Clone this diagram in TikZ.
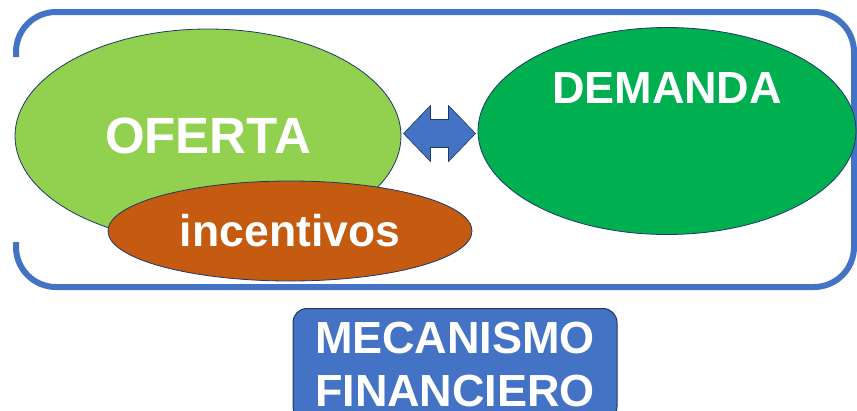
\documentclass[tikz,border=0pt]{standalone}
\usepackage{fontspec}
\setmainfont{Liberation Sans}
\usetikzlibrary{shapes,arrows,positioning,calc}
\definecolor{mfblue}{RGB}{68,114,196}
\definecolor{mfnavy}{RGB}{31,56,100}
\definecolor{mflime}{RGB}{146,208,80}
\definecolor{mfgreen}{RGB}{0,176,80}
\definecolor{mforange}{RGB}{197,90,17}

\begin{document}
\begin{tikzpicture}[x=1pt, y=-1pt,
    blob/.style={ellipse, draw=mfnavy, line width=0.8pt, inner sep=0pt, text=white, font=\bfseries},
    bigtxt/.style={text=white, font=\fontsize{45}{50}\selectfont\bfseries}]
    \useasboundingbox (0,0) rectangle (857,410);
    \clip (0,0) rectangle (857,410);

    % Frame (open on the left)
    \draw[mfblue, line width=6pt, rounded corners=40pt]
        (16,57) -- (16,12) -- (854,12) -- (854,287) -- (16,287) -- (16,242);

    % Supply side
    \node[blob, fill=mflime, minimum width=386pt, minimum height=214pt,
          font=\fontsize{51}{55}\selectfont\bfseries] (oferta) at (208,136) {OFERTA};
    \node[blob, fill=mforange, minimum width=364pt, minimum height=100pt,
          font=\fontsize{44.5}{50}\selectfont\bfseries] (incent) at (290,231) {incentivos};

    % Demand side
    \node[blob, fill=mfgreen, minimum width=378pt, minimum height=207pt] (demanda) at (667,131) {};
    \node[bigtxt] (demtxt) at ([yshift=43pt]demanda.center) {DEMANDA};

    % Two-way arrow
    \coordinate (mid) at ($(oferta.east)!0.5!(demanda.west)$);
    \draw[mfnavy, fill=mfblue, line width=0.6pt]
        ($(mid)+(-36,0)$) -- ++(27,-28) -- ++(0,14) -- ++(18,0) -- ++(0,-14)
        -- ++(27,28) -- ++(-27,28) -- ++(0,-14) -- ++(-18,0) -- ++(0,14) -- cycle;

    % Mechanism label
    \node[draw=mfnavy, line width=1pt, fill=mfblue, rounded corners=14pt, anchor=north,
          minimum width=324pt, minimum height=112pt, inner xsep=0pt, inner ysep=9pt,
          align=center, text=white,
          font=\fontsize{45}{53}\selectfont\bfseries] (mecan) at (455,308) {MECANISMO\\FINANCIERO};
\end{tikzpicture}
\end{document}
